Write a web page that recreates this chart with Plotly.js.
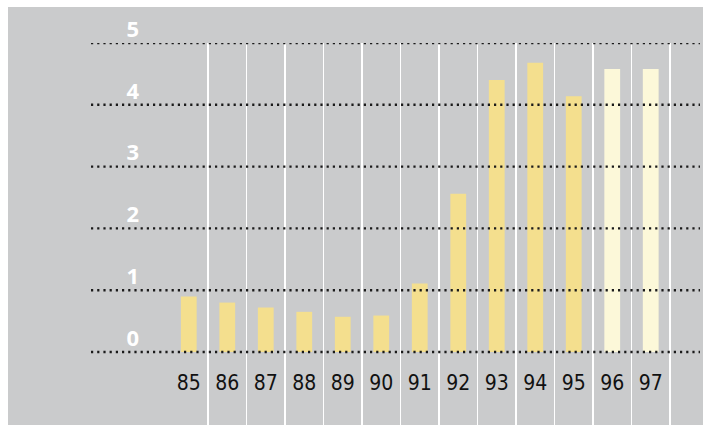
<!DOCTYPE html>
<html>
<head>
<meta charset="utf-8">
<script src="https://cdn.plot.ly/plotly-3.0.1.min.js"></script>
<style>html,body{margin:0;padding:0;background:#fff;}#chart{width:703px;height:425px;}</style>
</head>
<body>
<div id="chart"></div>
<script>
// Data
const years = [85, 86, 87, 88, 89, 90, 91, 92, 93, 94, 95, 96, 97];
const yearLabels = ['85','86','87','88','89','90','91','92','93','94','95','96','97'];
const values = [0.90, 0.80, 0.72, 0.65, 0.57, 0.59, 1.11, 2.56, 4.40, 4.68, 4.14, 4.58, 4.58];
const forecast = [false,false,false,false,false,false,false,false,false,false,false,true,true];
const yTicks = [0, 1, 2, 3, 4, 5];
const yTickLabels = ['0','1','2','3','4','5'];

// Style
const barColor = '#f4df8e';
const forecastColor = '#fcf8d9';
const bgGray = '#cacbcc';
const W = 703, H = 425;
const M = {l: 91, r: 3, t: 43, b: 0};
const xRange = [82.46, 98.28];
const yRange = [-1.181, 5];
const zeroPos = (0 - yRange[0]) / (yRange[1] - yRange[0]);
const boundaries = years.map(v => v + 0.5);
const plotW = W - M.l - M.r;
const yLabelAxisPos = (139 - M.l) / plotW;

const trace = {
  type: 'bar',
  x: years,
  y: values,
  width: 0.41,
  marker: {color: forecast.map(f => f ? forecastColor : barColor), line: {width: 0}},
  hoverinfo: 'x+y'
};

const shapes = [{
  type: 'rect', xref: 'paper', yref: 'paper', layer: 'below',
  x0: (8 - M.l) / plotW, x1: 1.05, y0: -0.05, y1: 1 + 36 / (H - M.t - M.b),
  fillcolor: bgGray, line: {width: 0}
}].concat(yTicks.map(v => ({
  type: 'line', xref: 'paper', yref: 'y', layer: 'above',
  x0: 0, x1: 1, y0: v, y1: v,
  line: {color: '#1a1a1a', width: 2.4, dash: '2.2px,4px'}
})));

const layout = {
  width: W, height: H,
  margin: M,
  paper_bgcolor: '#ffffff',
  plot_bgcolor: 'rgba(0,0,0,0)',
  showlegend: false,
  shapes: shapes,
  xaxis: {
    range: xRange, domain: [0, 1],
    tickvals: years, ticktext: yearLabels,
    anchor: 'free', position: zeroPos,
    showgrid: false, zeroline: false, showline: false, ticks: '',
    ticklabelstandoff: 16,
    tickfont: {family: '"Liberation Sans Narrow", "DejaVu Sans Condensed", sans-serif', size: 21, color: '#111111'},
    fixedrange: true
  },
  xaxis2: {
    overlaying: 'x', range: xRange,
    tickvals: boundaries, showticklabels: false,
    showgrid: true, gridcolor: '#ffffff', gridwidth: 1.2,
    zeroline: false, showline: false, ticks: ''
  },
  yaxis: {
    range: yRange,
    anchor: 'free', position: yLabelAxisPos,
    tickvals: yTicks, ticktext: yTickLabels,
    showgrid: false, zeroline: false, showline: false, ticks: '',
    ticklabelposition: 'outside',
    ticklabelstandoff: 0,
    ticklabelshift: -14,
    tickfont: {family: '"Open Sans", "DejaVu Sans", sans-serif', size: 22, color: '#ffffff', weight: 'bold'},
    fixedrange: true
  }
};

// empty trace so the boundary axis (white separators) is drawn
const gridTrace = {type: 'scatter', x: [], y: [], xaxis: 'x2', yaxis: 'y', hoverinfo: 'skip'};

Plotly.newPlot('chart', [trace, gridTrace], layout, {displayModeBar: false, staticPlot: true});
</script>
</body>
</html>
